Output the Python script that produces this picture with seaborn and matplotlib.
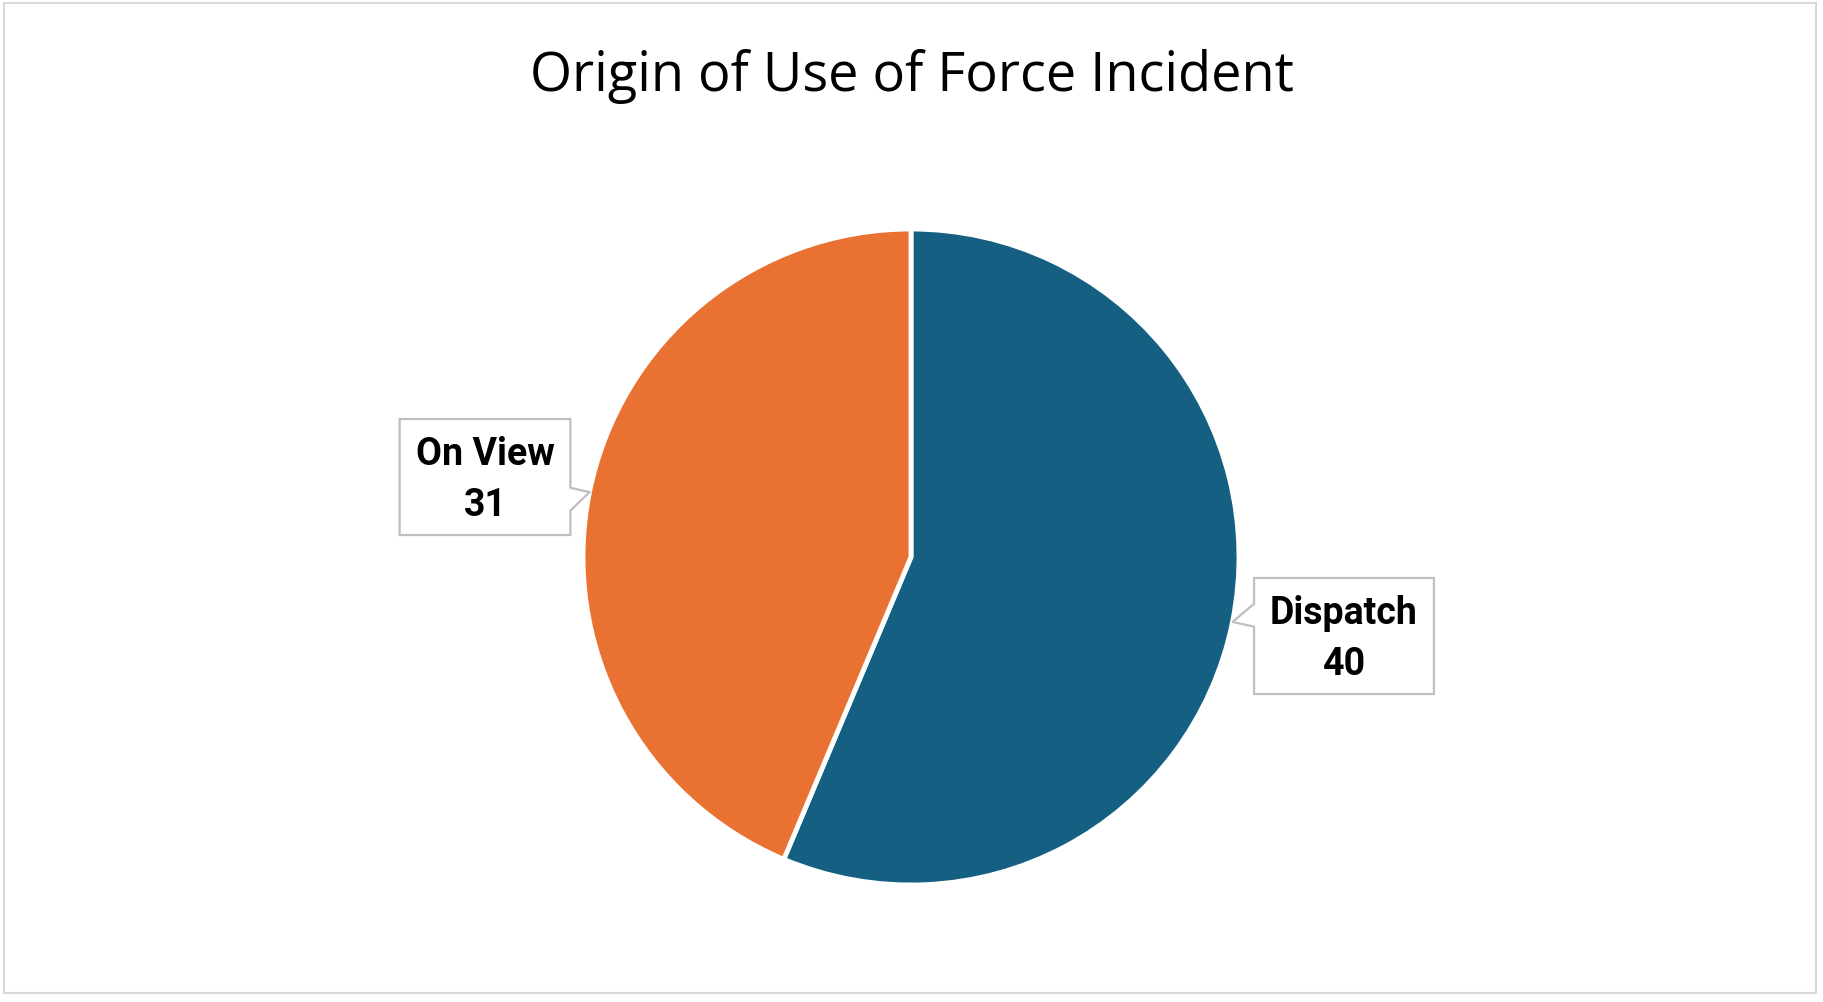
import numpy as np
import seaborn as sns
import matplotlib.pyplot as plt
from matplotlib.patches import Polygon, Rectangle

# Chart data
categories = ['Dispatch', 'On View']
counts = [40, 31]
colors = ['#156082', '#E97132']
title = 'Origin of Use of Force Incident'

sns.set_theme(style='white')
plt.rcParams['font.family'] = ['Open Sans', 'DejaVu Sans']

W, H = 1824, 1003
fig = plt.figure(figsize=(W / 100, H / 100), dpi=100)
ax = fig.add_axes([0, 0, 1, 1])

# layout (pixel units, y measured from top)
cx, cy, r = 911, 558, 328
label_centers = {'On View': (485, 478), 'Dispatch': (1344, 637)}


def up(y):
    return H - y


wedges, _ = ax.pie(counts, colors=colors, startangle=90, counterclock=False,
                   center=(cx, up(cy)), radius=r,
                   wedgeprops=dict(edgecolor='white', linewidth=3.5))

# pie() resets the limits, so set them afterwards
ax.set_xlim(0, W)
ax.set_ylim(0, H)
ax.set_aspect('equal')
ax.axis('off')

# outer chart border
ax.add_patch(Rectangle((4, up(994)), 1812, 990, fill=False,
                       edgecolor='#d9d9d9', linewidth=1.5))

fig.text(0.5, 1 - 91 / H, title, ha='center', va='baseline',
         fontsize=39, color='black')

fig.canvas.draw()
renderer = fig.canvas.get_renderer()

for w, name, val in zip(wedges, categories, counts):
    mid = np.deg2rad((w.theta1 + w.theta2) / 2)
    tip_x = cx + r * np.cos(mid)
    tip_y = cy - r * np.sin(mid)
    lx, ly = label_centers[name]
    t = ax.text(lx, up(ly + 2), f'{name}\n{val}', ha='center', va='center',
                fontsize=27, fontweight='bold', family=['Roboto', 'DejaVu Sans'],
                linespacing=1.45, color='black', zorder=5)
    bb = t.get_window_extent(renderer)
    half_w = bb.width / 2 + 16
    top, bot = ly - 58, ly + 58
    left, right = lx - half_w, lx + half_w
    bc = tip_y + 0.47 * (tip_y - ly)
    b0, b1 = bc - 11.5, bc + 11.5
    if tip_x > right:
        pts = [(left, top), (right, top), (right, b0), (tip_x, tip_y),
               (right, b1), (right, bot), (left, bot)]
    else:
        pts = [(left, top), (right, top), (right, bot), (left, bot),
               (left, b1), (tip_x, tip_y), (left, b0)]
    pts = [(x, up(y)) for x, y in pts]
    ax.add_patch(Polygon(pts, closed=True, facecolor='white',
                         edgecolor='#bfbfbf', linewidth=1.6, zorder=4))

fig.savefig('out.png', dpi=100)
